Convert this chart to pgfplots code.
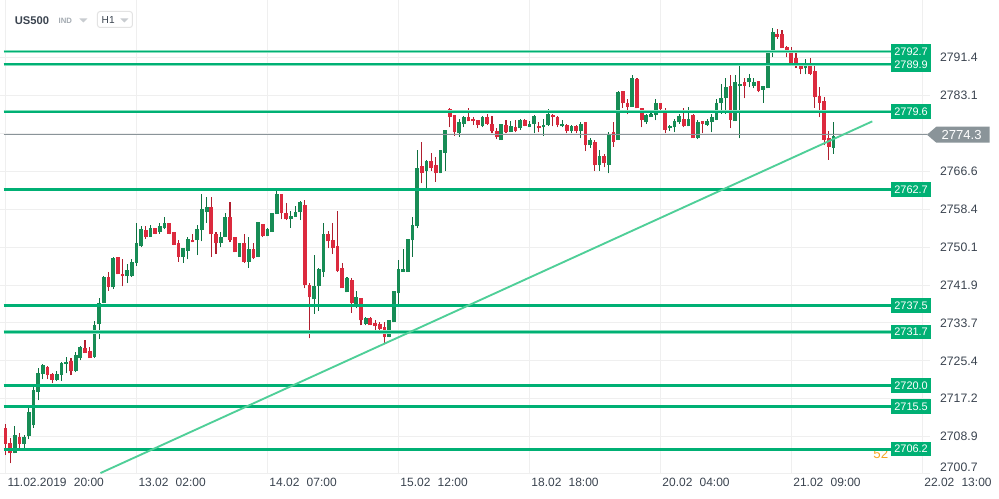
\documentclass[border=0pt]{standalone}
\usepackage{pgfplots}
\pgfplotsset{compat=1.18}
\usepackage{pgfplotstable}
\usepackage{fontspec}
\setmainfont{Liberation Sans}
\definecolor{lvl}{HTML}{00B074}
\definecolor{lvllight}{HTML}{86DEBC}
\definecolor{upbody}{HTML}{178C55}
\definecolor{upwick}{HTML}{0E7040}
\definecolor{dnbody}{HTML}{DC2A3E}
\definecolor{dnwick}{HTML}{B01E2E}
\definecolor{trend}{HTML}{4FCF98}
\definecolor{pgray}{HTML}{8A9499}
\definecolor{txt}{HTML}{3B4450}
\definecolor{gridc}{HTML}{EFEFEF}
\definecolor{hdrgray}{HTML}{A3AAB1}
\definecolor{orng}{HTML}{F5A623}

\pgfplotstableread{
i o h l c
2 2705.3 2711.2 2705.3 2709.2
4 2707.3 2709.2 2706.4 2708.8
5 2709.0 2715.7 2708.4 2714.2
6 2711.4 2719.9 2710.9 2719.0
7 2718.6 2723.8 2716.8 2722.7
8 2722.5 2724.7 2721.4 2724.4
11 2721.2 2723.3 2721.0 2722.5
12 2722.3 2725.1 2721.0 2724.9
13 2724.7 2726.2 2722.7 2725.1
15 2723.3 2727.3 2722.9 2726.6
16 2726.0 2728.6 2725.5 2728.4
19 2726.2 2734.0 2726.0 2733.1
20 2733.4 2739.0 2730.1 2738.1
21 2738.1 2743.8 2737.9 2743.6
23 2741.4 2748.1 2741.0 2747.7
26 2743.8 2746.4 2742.3 2745.1
27 2743.8 2747.5 2743.6 2747.0
28 2746.8 2755.5 2746.0 2751.0
29 2750.3 2754.7 2750.1 2754.0
31 2752.3 2754.9 2752.3 2754.4
33 2753.4 2755.3 2753.1 2754.7
34 2754.2 2756.8 2754.0 2755.3
38 2748.1 2749.9 2746.8 2749.9
39 2749.4 2752.3 2747.5 2752.0
41 2751.6 2754.9 2748.4 2754.0
42 2753.8 2761.8 2751.4 2758.4
43 2757.7 2761.0 2755.5 2758.8
46 2751.0 2753.4 2750.1 2752.3
47 2752.3 2757.5 2752.3 2756.8
50 2748.1 2751.0 2748.1 2751.0
52 2747.0 2752.3 2745.7 2749.7
54 2747.9 2755.7 2747.9 2755.7
56 2752.5 2754.2 2752.5 2754.0
57 2753.4 2757.5 2753.4 2757.5
58 2757.3 2763.1 2757.3 2761.6
61 2756.2 2757.9 2754.4 2757.0
62 2756.8 2759.0 2756.8 2757.7
63 2757.7 2760.1 2756.0 2759.9
66 2738.8 2748.4 2735.7 2741.6
67 2741.6 2745.7 2736.2 2745.3
68 2744.7 2755.3 2743.6 2752.9
73 2740.3 2743.6 2740.3 2743.4
75 2737.3 2740.7 2736.8 2739.2
77 2733.4 2734.9 2733.1 2734.7
82 2730.7 2734.4 2730.5 2734.2
83 2733.8 2740.5 2733.8 2740.5
84 2740.1 2747.3 2737.7 2745.3
85 2744.7 2749.7 2744.7 2745.3
86 2744.7 2752.0 2744.7 2752.0
87 2751.6 2756.8 2748.1 2754.9
88 2754.7 2771.2 2754.2 2767.3
90 2766.6 2769.2 2762.9 2768.8
93 2766.2 2771.2 2766.2 2771.2
94 2770.7 2775.7 2766.6 2775.7
97 2774.9 2778.1 2774.2 2777.3
98 2777.0 2778.6 2776.2 2778.4
102 2776.4 2778.6 2776.2 2778.4
106 2773.4 2777.0 2773.4 2777.0
108 2775.1 2777.5 2775.1 2776.4
110 2776.0 2778.1 2775.7 2777.9
112 2776.2 2777.5 2776.2 2777.0
113 2777.0 2778.8 2774.9 2778.6
115 2776.2 2778.1 2774.4 2776.8
116 2776.8 2780.1 2776.6 2779.0
119 2776.4 2777.7 2776.2 2777.0
121 2775.3 2776.8 2774.9 2776.6
123 2775.3 2777.3 2773.8 2777.0
125 2772.3 2773.8 2771.8 2773.4
127 2767.9 2771.2 2766.8 2769.9
129 2768.1 2775.1 2766.2 2774.7
131 2773.4 2784.0 2773.4 2783.8
134 2780.7 2787.5 2780.7 2787.0
137 2777.3 2779.2 2777.0 2778.8
138 2778.4 2779.4 2778.4 2779.2
139 2778.8 2782.3 2777.7 2781.4
142 2776.0 2776.8 2775.5 2776.4
143 2776.2 2778.1 2775.1 2777.5
144 2777.3 2779.2 2777.0 2778.6
146 2776.4 2780.7 2776.4 2778.1
148 2773.8 2777.7 2773.6 2777.3
150 2776.8 2778.1 2776.6 2777.5
151 2777.3 2779.2 2775.1 2778.4
152 2777.9 2782.3 2777.7 2781.6
153 2781.4 2785.7 2779.2 2782.5
154 2782.5 2787.0 2779.2 2784.9
156 2777.5 2787.5 2777.5 2786.0
157 2785.1 2790.3 2773.8 2785.7
159 2786.0 2787.9 2784.9 2787.0
160 2785.3 2787.0 2784.7 2786.0
162 2784.4 2785.3 2781.6 2785.1
163 2784.7 2793.1 2784.7 2793.1
164 2792.7 2797.9 2791.4 2797.0
171 2789.0 2791.0 2787.7 2790.1
177 2771.8 2777.3 2770.5 2774.3
}\up

\pgfplotstableread{
i o h l c
0 2710.7 2711.6 2704.9 2707.3
1 2707.5 2708.6 2703.1 2705.3
3 2708.8 2709.7 2706.4 2707.3
9 2724.0 2724.2 2721.4 2722.3
10 2722.5 2722.7 2720.5 2721.2
14 2725.3 2726.0 2722.3 2723.1
17 2728.1 2729.9 2727.1 2727.1
18 2727.5 2728.4 2726.0 2726.0
22 2743.6 2744.7 2740.7 2741.4
24 2748.1 2748.1 2744.2 2744.2
25 2744.4 2747.5 2741.6 2743.8
30 2753.8 2754.7 2752.0 2752.3
32 2754.4 2754.4 2752.9 2753.1
35 2755.3 2755.5 2752.9 2753.1
36 2753.4 2753.4 2750.5 2750.7
37 2751.0 2751.8 2747.0 2748.1
40 2751.8 2753.1 2751.2 2751.2
44 2758.8 2761.0 2748.1 2752.9
45 2752.9 2753.4 2748.6 2751.0
48 2756.8 2759.9 2751.2 2751.8
49 2752.3 2752.3 2749.0 2749.0
51 2751.0 2752.9 2746.8 2747.0
53 2749.7 2751.0 2747.5 2747.7
55 2755.1 2755.1 2752.3 2752.5
59 2761.8 2761.8 2756.2 2757.5
60 2757.5 2759.7 2756.0 2756.2
64 2759.2 2760.5 2741.2 2742.0
65 2742.0 2742.3 2730.3 2739.2
69 2753.1 2753.6 2749.9 2751.4
70 2751.8 2755.3 2748.6 2749.9
71 2750.3 2757.9 2744.7 2744.9
72 2745.7 2746.6 2741.2 2741.2
74 2743.1 2743.4 2735.9 2737.9
76 2739.0 2739.0 2733.1 2734.2
78 2734.7 2734.9 2733.1 2733.1
79 2733.6 2734.2 2731.4 2732.9
80 2733.4 2733.8 2731.6 2732.3
81 2732.7 2733.8 2729.2 2730.5
89 2767.7 2773.1 2764.0 2766.2
91 2768.8 2770.7 2766.8 2767.3
92 2767.9 2769.7 2764.4 2766.2
95 2780.1 2780.3 2776.2 2778.4
96 2778.8 2778.8 2774.4 2775.1
99 2778.4 2780.5 2777.5 2777.5
100 2778.1 2778.4 2776.8 2777.5
101 2777.9 2777.9 2776.0 2776.8
103 2778.4 2779.0 2776.8 2777.0
104 2777.0 2778.6 2774.9 2775.3
105 2775.5 2776.0 2773.6 2774.0
107 2776.8 2777.7 2774.9 2775.1
109 2776.2 2777.9 2775.1 2775.5
111 2777.9 2778.1 2776.4 2776.6
114 2776.4 2777.3 2775.1 2776.0
117 2778.8 2779.0 2776.4 2778.4
118 2778.4 2778.6 2776.2 2776.8
120 2776.8 2777.0 2774.9 2775.5
122 2776.6 2776.8 2774.9 2775.3
124 2777.3 2777.3 2771.0 2772.3
126 2773.1 2773.4 2766.8 2767.9
128 2769.9 2770.5 2767.5 2768.4
130 2775.1 2777.3 2772.0 2773.1
132 2784.0 2784.0 2780.5 2781.4
133 2781.6 2782.3 2779.0 2780.7
135 2786.8 2787.0 2780.3 2780.3
136 2780.3 2780.5 2776.2 2777.7
140 2781.6 2781.6 2779.9 2780.1
141 2779.9 2780.3 2774.9 2775.7
145 2778.1 2780.5 2776.2 2776.4
147 2778.8 2779.2 2773.8 2773.8
149 2777.5 2777.5 2774.9 2777.0
155 2785.1 2787.5 2776.0 2777.9
158 2786.0 2787.0 2782.5 2785.3
161 2786.2 2786.2 2783.8 2784.2
165 2796.6 2797.5 2795.5 2795.9
166 2796.6 2797.3 2793.4 2793.4
167 2793.6 2793.8 2791.4 2792.5
168 2792.5 2793.6 2790.1 2790.3
169 2791.2 2792.5 2789.2 2790.1
170 2790.1 2790.3 2787.7 2788.8
172 2790.1 2791.2 2787.5 2787.9
173 2788.4 2789.7 2780.5 2782.7
174 2783.1 2784.9 2778.4 2781.6
175 2782.0 2782.9 2772.3 2773.4
176 2773.8 2775.5 2769.2 2772.0
}\down

\begin{document}
\begin{tikzpicture}
\begin{scope}[x=0.75pt,y=0.75pt]
\fill[white] (0,0) rectangle (999,498);
\path[use as bounding box] (0,0) rectangle (999,498);
\end{scope}
\begin{axis}[
  at={(0pt,18pt)}, anchor=south west,
  scale only axis, width=697.5pt, height=355.5pt,
  xmin=-1.068, xmax=197.65, ymin=2700.74, ymax=2803.79,
  clip=false,
  axis line style={draw=none}, tick style={draw=none}, major tick length=0pt,
  grid=major, major grid style={gridc, line width=0.75pt},
  xtick={0,28,56,84,112,140,168,196},
  xticklabels={11.02.2019\hspace{0.6em}20:00, 13.02\hspace{0.6em}02:00, 14.02\hspace{0.6em}07:00, 15.02\hspace{0.6em}12:00, 18.02\hspace{0.6em}18:00, 20.02\hspace{0.6em}04:00, 21.02\hspace{0.6em}09:00, 22.02\hspace{0.6em}13:00},
  xticklabel style={anchor=north west, font=\fontsize{9}{10}\selectfont, text=txt, xshift=-2pt, yshift=1pt},
  ytick={2701.0,2708.94,2717.18,2725.42,2733.66,2741.9,2750.14,2758.38,2766.62,2774.86,2783.1,2791.34},
  yticklabels={,2708.9,2717.2,2725.4,2733.7,2741.9,2750.1,2758.4,2766.6,,2783.1,2791.4},
  extra y ticks={2702.2},
  extra y tick labels={2700.7},
  extra y tick style={grid=none},
  yticklabel pos=right,
  yticklabel style={anchor=west, font=\fontsize{9.2}{10}\selectfont, text=txt, xshift=4pt},
]
% wicks
\addplot[draw=upwick, line width=0.8pt, mark=none, forget plot,
  quiver={u=0, v=\thisrow{h}-\thisrow{l}}] table[x=i, y=l] {\up};
\addplot[draw=dnwick, line width=0.8pt, mark=none, forget plot,
  quiver={u=0, v=\thisrow{h}-\thisrow{l}}] table[x=i, y=l] {\down};
% bodies
\addplot[draw=upbody, line width=2.8pt, line cap=butt, mark=none, forget plot,
  quiver={u=0, v={max(\thisrow{c}-\thisrow{o},0.25)}}] table[x=i, y=o] {\up};
\addplot[draw=dnbody, line width=2.8pt, line cap=butt, mark=none, forget plot,
  quiver={u=0, v={max(\thisrow{o}-\thisrow{c},0.25)}}] table[x=i, y=c] {\down};
% current price line
\addplot[pgray, line width=0.75pt] coordinates {(-0.4,2774.6) (197,2774.6)};
% orange counter (mostly hidden under the label)
\node[anchor=west, text=orng, font=\fontsize{10}{11}\selectfont, inner sep=0] at (axis cs:185.5,2705.2) {52};
% levels, thick
\pgfplotsinvokeforeach{2762.7,2737.5,2720.0,2715.5,2706.2}{
  \addplot[lvl, line width=2.3pt] coordinates {(-0.4,#1) (194,#1)};
}
% levels, thin
\pgfplotsinvokeforeach{2792.7,2789.9,2779.6,2731.7}{
  \addplot[lvllight, line width=2.6pt] coordinates {(-0.4,#1) (194,#1)};
  \addplot[lvl, line width=1.3pt] coordinates {(-0.4,#1) (194,#1)};
}
% trend line
\addplot[trend, line width=1.4pt] coordinates {(20.3,2701.0) (185.3,2777.5)};
% level labels
\pgfplotsinvokeforeach{2792.7,2789.9,2779.6,2762.7,2737.5,2731.7,2720.0,2715.5,2706.2}{
  \node[fill=lvl, text=white, minimum width=30pt, minimum height=11pt, inner sep=0,
        font=\fontsize{8.2}{9}\selectfont] at (axis cs:193.6,#1) {#1};
}
\coordinate (tag) at (axis cs:197.0,2774.6);
\end{axis}
% price tag
\fill[pgray] (tag) -- ++(7pt,6pt) -- ++(40pt,0pt) -- ++(0pt,-12pt) -- ++(-40pt,0pt) -- cycle;
\node[text=white, font=\fontsize{9.8}{10}\selectfont, inner sep=0] at ([xshift=26pt]tag) {2774.3};
% header
\begin{scope}[x=0.75pt,y=0.75pt]
\node[anchor=west, inner sep=0, text=txt, font=\fontsize{8.4}{10}\selectfont\bfseries] at (14,478) {US500};
\node[anchor=west, inner sep=0, text=hdrgray, font=\fontsize{5.8}{7}\selectfont\bfseries] at (58,478) {IND};
\fill[hdrgray!60] (79,480) -- (87,480) -- (83,476) -- cycle;
\draw[gray!22, line width=0.75pt, rounded corners=2pt] (97,471) rectangle (132,487);
\node[anchor=west, inner sep=0, text=txt, font=\fontsize{7.6}{9}\selectfont] at (101,478) {H1};
\fill[hdrgray!60] (120,480) -- (128,480) -- (124,476) -- cycle;
\end{scope}
\end{tikzpicture}
\end{document}
